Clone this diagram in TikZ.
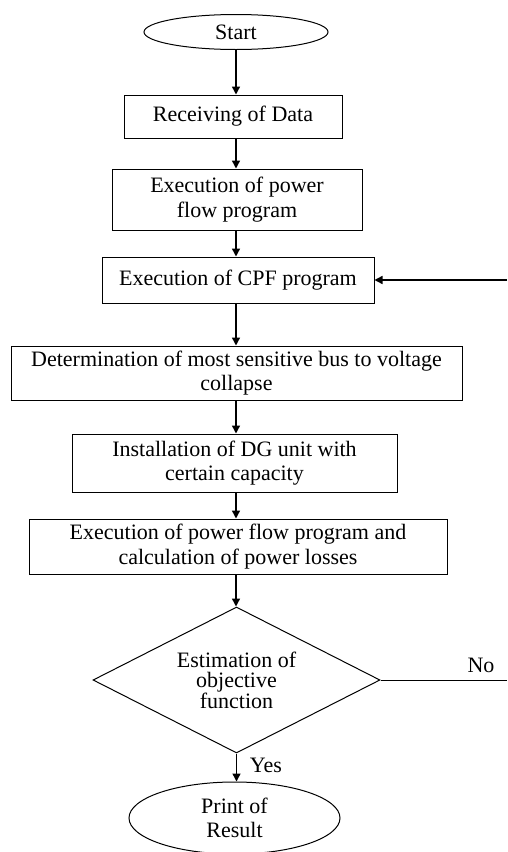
\documentclass[tikz,border=0pt]{standalone}
\usepackage{fontspec}
\setmainfont{Liberation Serif}
\usetikzlibrary{shapes.geometric,arrows.meta}
\begin{document}
\begin{tikzpicture}[x=1pt,y=-1pt,
  every node/.style={font=\fontsize{22}{24.5}\selectfont, inner sep=0pt, align=center, text=black},
  box/.style={draw, line width=1pt, rectangle},
  oval/.style={draw, line width=1pt, ellipse},
  decision/.style={draw, line width=1pt, diamond, aspect=2, font=\fontsize{22}{20}\selectfont},
  arr/.style={line width=1.4pt, -{Triangle[length=8pt,width=8pt]}},
  ln/.style={line width=1pt},
  lbl/.style={font=\fontsize{22}{24}\selectfont}]
\useasboundingbox (0,0) rectangle (507,852);
\node[oval, minimum width=184pt, minimum height=35pt] (start) at (236,32) {Start};
\node[box, minimum width=218pt, minimum height=43pt] (rec) at (233,116.5) {Receiving of Data};
\node[box, minimum width=250pt, minimum height=61pt] (pf) at (237,199.5) {Execution of power\\flow program};
\node[box, minimum width=272pt, minimum height=46pt] (cpf) at (238,280) {Execution of CPF program};
\node[box, minimum width=451pt, minimum height=54pt] (det) at (236.5,373) {Determination of most sensitive bus to voltage\\collapse};
\node[box, minimum width=325pt, minimum height=58pt] (dg) at (234.5,463) {Installation of DG unit with\\certain capacity};
\node[box, minimum width=418pt, minimum height=55pt] (loss) at (238,546.5) {Execution of power flow program and\\calculation of power losses};
\node[decision, minimum width=287pt, minimum height=146pt] (dec) at (236.5,680) {Estimation of\\objective\\function};
\node[oval, minimum width=211pt, minimum height=72pt] (print) at (234.5,818) {Print of\\Result};
\node[lbl] (yes) at (266,765) {Yes};
\node[lbl] (no) at (481,665) {No};
\coordinate (noend) at (507,680);
\coordinate (loopin) at (507,280);
\draw[arr] (start.south) -- (start.south |- rec.north);
\draw[arr] (rec.south -| start.south) -- (start.south |- pf.north);
\draw[arr] (pf.south -| start.south) -- (start.south |- cpf.north);
\draw[arr] (cpf.south -| start.south) -- (start.south |- det.north);
\draw[arr] (det.south -| start.south) -- (start.south |- dg.north);
\draw[arr] (dg.south -| start.south) -- (start.south |- loss.north);
\draw[arr] (loss.south -| start.south) -- (start.south |- dec.north);
\draw[arr] (dec.south) -- (dec.south |- print.north);
\draw[ln] (dec.east) -- (noend);
\draw[arr] (loopin) -- (cpf.east);
\end{tikzpicture}
\end{document}
